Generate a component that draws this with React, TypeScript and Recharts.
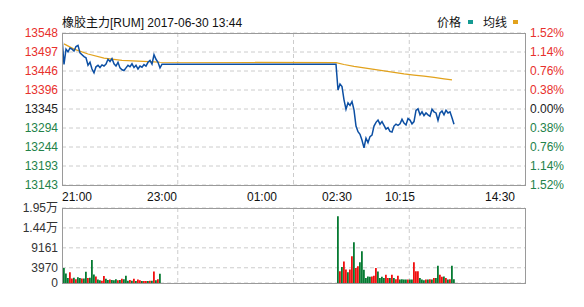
import React from 'react';
import { ComposedChart, Line, Bar, Cell, XAxis, YAxis, CartesianGrid } from 'recharts';

// price scale limits, mid point is the reference price
const PRICE_MIN = 13143;
const PRICE_MAX = 13548;

// x runs in 2px slots; night session from slot 0, day session from slot 137
const SLOT_COUNT = 231.5;
const DAY_PRICE_START = 137;
const DAY_VOL_START = 138;

const NIGHT_PRICE = [
  13535, 13464, 13505, 13498, 13508, 13505, 13500, 13512, 13515, 13495,
  13490, 13485, 13482, 13462, 13470, 13452, 13442, 13458, 13462, 13456,
  13463, 13460, 13465, 13478, 13472, 13480, 13466, 13460, 13470, 13455,
  13450, 13448, 13455, 13462, 13458, 13466, 13456, 13462, 13452, 13460,
  13457, 13464, 13460, 13470, 13475, 13465, 13490, 13478, 13470, 13455,
  13465,
];

const DAY_PRICE = [
  13465, 13396, 13412, 13405, 13370, 13345, 13362, 13355, 13365, 13343,
  13300, 13285, 13278, 13262, 13242, 13268, 13256, 13272, 13276, 13300,
  13310, 13316, 13305, 13312, 13302, 13292, 13296, 13286, 13284, 13300,
  13305, 13302, 13306, 13318, 13308, 13303, 13320, 13316, 13306, 13312,
  13342, 13346, 13330, 13338, 13328, 13335, 13330, 13326, 13345, 13338,
  13335, 13315, 13335, 13340, 13330, 13342, 13335, 13338, 13322, 13305,
];

const AVG_SLOTS = [1, 6, 13, 21, 30, 46, 49, 137, 141, 146, 151, 156, 161, 166, 171, 176, 181, 186, 191, 195];
const AVG_VALUES = [
  13519, 13505, 13492, 13481, 13475, 13471, 13470, 13469, 13464, 13459,
  13455, 13451, 13447, 13443, 13439, 13436, 13433, 13430, 13426, 13423,
];

const NIGHT_VOL = [
  4200, 3900, 2500, 1300, 2800, 1200, 1400, 1000, 1500, 1300,
  1200, 1200, 2900, 1300, 1400, 6000, 2200, 1700, 900, 700,
  600, 1800, 1100, 800, 900, 800, 700, 1000, 700, 800,
  1100, 1000, 1900, 600, 800, 600, 1100, 500, 900, 700,
  500, 500, 500, 500, 600, 600, 3000, 700, 1000, 2400,
];
const NIGHT_UP = [
  1, 0, 0, 0, 1, 1, 0, 1, 0, 0,
  1, 0, 0, 1, 0, 0, 0, 1, 0, 0,
  1, 1, 0, 0, 1, 0, 0, 0, 1, 0,
  1, 0, 0, 0, 1, 0, 1, 0, 1, 1,
  0, 1, 1, 0, 1, 0, 1, 0, 1, 0,
];

const DAY_VOL = [
  17380, 3040, 4170, 5600, 3500, 2800, 3500, 6950, 10600, 3900,
  4350, 5390, 8250, 3480, 1300, 1700, 1600, 1700, 1900, 3900,
  3000, 1300, 1600, 1300, 2170, 1300, 1300, 2170, 1300, 1000,
  1900, 900, 1000, 900, 900, 900, 900, 900, 5390, 3040,
  3040, 1300, 900, 700, 900, 900, 1000, 900, 1300, 1300,
  4520, 2170, 1600, 1700, 1300, 900, 1000, 4520, 1000,
];
const DAY_UP = [
  0, 1, 0, 1, 1, 0, 1, 1, 0, 1,
  1, 0, 0, 0, 0, 0, 0, 1, 1, 1,
  0, 0, 0, 0, 1, 1, 0, 1, 0, 1,
  1, 0, 0, 0, 0, 1, 0, 0, 1, 1,
  1, 0, 0, 0, 1, 0, 1, 0, 1, 0,
  0, 1, 1, 0, 1, 0, 1, 0, 0,
];

const VOL_TICKS = [0, 3970, 9161, 14352, 19543];

const TIME_TICKS = [0, 50, 100, 137.5, 169, 219];
const TIME_LABELS = ['21:00', '23:00', '01:00', '02:30', '10:15', '14:30'];

const RED = '#e8302c';
const GREEN = '#23824a';
const BAR_UP = '#f01010';
const BAR_DOWN = '#067a32';
const PRICE_COLOR = '#0c4fa3';
const AVG_COLOR = '#e2a21c';
const GRID = '#cccccc';
const FONT = "'Liberation Sans', Arial, 'Noto Sans CJK SC', sans-serif";

const PRICE_MID = (PRICE_MIN + PRICE_MAX) / 2;
const PRICE_TICKS = Array.from({ length: 9 }, (_, i) => PRICE_MIN + ((PRICE_MAX - PRICE_MIN) * i) / 8);

const priceData = [
  ...NIGHT_PRICE.map((price, i) => ({ slot: i, price })),
  ...DAY_PRICE.map((price, i) => ({ slot: DAY_PRICE_START + i, price })),
];
const avgData = AVG_SLOTS.map((slot, i) => ({ slot, avg: AVG_VALUES[i] }));
const volData = [
  ...NIGHT_VOL.map((vol, i) => ({ slot: i, vol, up: NIGHT_UP[i] === 1 })),
  ...DAY_VOL.map((vol, i) => ({ slot: DAY_VOL_START + i, vol, up: DAY_UP[i] === 1 })),
];

const tickColor = (v: number) => {
  if (Math.abs(v - PRICE_MID) < 0.01) return '#222';
  return v > PRICE_MID ? RED : GREEN;
};

const quarterLines = ({ offset }: any) =>
  [1, 2, 3].map((k) => offset.left + (offset.width * k) / 4);

const PriceTick = (props: any) => {
  const { x, y, payload } = props;
  return (
    <text x={x} y={y} dy={4} textAnchor="end" fill={tickColor(payload.value)} fontSize={12} fontFamily={FONT}>
      {Math.floor(payload.value)}
    </text>
  );
};

const PctTick = (props: any) => {
  const { x, y, payload } = props;
  const pct = Math.abs(((payload.value - PRICE_MID) / PRICE_MID) * 100).toFixed(2) + '%';
  return (
    <text x={x} y={y} dy={4} textAnchor="start" fill={tickColor(payload.value)} fontSize={12} fontFamily={FONT}>
      {pct}
    </text>
  );
};

const TimeTick = (props: any) => {
  const { x, y, payload, index } = props;
  return (
    <text x={x} y={y} dy={16} textAnchor={index === 0 ? 'start' : 'middle'} fill="#111" fontSize={12} fontFamily={FONT}>
      {TIME_LABELS[TIME_TICKS.indexOf(payload.value)]}
    </text>
  );
};

const VolTick = (props: any) => {
  const { x, y, payload } = props;
  const v = payload.value;
  const label = v >= 10000 ? (v / 10000).toFixed(2) + '万' : String(v);
  return (
    <text x={x} y={y} dy={4} textAnchor="end" fill="#333" fontSize={12} fontFamily={FONT}>
      {label}
    </text>
  );
};

const frame = (left: number, top: number, width: number, height: number): React.CSSProperties => ({
  position: 'absolute',
  left,
  top,
  width,
  height,
  border: '1px solid #9a9a9a',
  boxSizing: 'border-box',
  pointerEvents: 'none',
});

export default function App() {
  return (
    <div style={{ position: 'absolute', left: 0, top: 0, width: 584, height: 307, background: '#fff', fontFamily: FONT }}>
      <div style={{ position: 'absolute', left: 62, top: 13, fontSize: 12, color: '#111', whiteSpace: 'nowrap' }}>
        橡胶主力[RUM] 2017-06-30 13:44
      </div>
      <div style={{ position: 'absolute', left: 437, top: 13, fontSize: 12, color: '#111', display: 'flex', alignItems: 'center', whiteSpace: 'nowrap' }}>
        <span>价格</span>
        <span style={{ display: 'inline-block', width: 5, height: 4, background: '#149a92', margin: '0 10px 0 7px' }} />
        <span>均线</span>
        <span style={{ display: 'inline-block', width: 5, height: 4, background: AVG_COLOR, marginLeft: 6 }} />
      </div>

      <div style={{ position: 'absolute', left: 0, top: 0 }}>
        <ComposedChart width={584} height={215} margin={{ top: 33, right: 0, bottom: 0, left: 0 }}>
          <CartesianGrid
            yAxisId="left"
            stroke={GRID}
            strokeDasharray="4 3"
            verticalCoordinatesGenerator={quarterLines}
          />
          <XAxis
            type="number"
            dataKey="slot"
            domain={[0, SLOT_COUNT]}
            ticks={TIME_TICKS}
            interval={0}
            allowDataOverflow
            height={30}
            tickSize={0}
            tickMargin={0}
            axisLine={false}
            tick={<TimeTick />}
          />
          <YAxis
            yAxisId="left"
            orientation="left"
            width={62}
            domain={[PRICE_MIN, PRICE_MAX]}
            ticks={PRICE_TICKS}
            interval={0}
            allowDataOverflow
            axisLine={false}
            tickLine={false}
            tickSize={0}
            tickMargin={4}
            tick={<PriceTick />}
          />
          <YAxis
            yAxisId="right"
            orientation="right"
            width={59}
            domain={[PRICE_MIN, PRICE_MAX]}
            ticks={PRICE_TICKS}
            interval={0}
            allowDataOverflow
            axisLine={false}
            tickLine={false}
            tickSize={0}
            tickMargin={5}
            tick={<PctTick />}
          />
          <Line
            yAxisId="left"
            data={avgData}
            dataKey="avg"
            type="linear"
            stroke={AVG_COLOR}
            strokeWidth={1.2}
            dot={false}
            isAnimationActive={false}
          />
          <Line
            yAxisId="left"
            data={priceData}
            dataKey="price"
            type="linear"
            stroke={PRICE_COLOR}
            strokeWidth={1.5}
            dot={false}
            isAnimationActive={false}
          />
          <Line
            yAxisId="right"
            data={priceData}
            dataKey="price"
            stroke="none"
            dot={false}
            isAnimationActive={false}
          />
        </ComposedChart>
      </div>
      <div style={frame(62, 33, 464, 153)} />

      <div style={{ position: 'absolute', left: 0, top: 200 }}>
        <ComposedChart width={584} height={90} data={volData} margin={{ top: 8, right: 59, bottom: 7, left: 0 }}>
          <CartesianGrid stroke={GRID} strokeDasharray="4 3" verticalCoordinatesGenerator={quarterLines} />
          <XAxis type="number" dataKey="slot" domain={[0, SLOT_COUNT]} allowDataOverflow hide />
          <YAxis
            width={62}
            domain={[0, VOL_TICKS[VOL_TICKS.length - 1]]}
            ticks={VOL_TICKS}
            interval={0}
            allowDataOverflow
            axisLine={false}
            tickLine={false}
            tickSize={0}
            tickMargin={4}
            tick={<VolTick />}
          />
          <Bar dataKey="vol" barSize={2} isAnimationActive={false}>
            {volData.map((d, i) => (
              <Cell key={i} fill={d.up ? BAR_UP : BAR_DOWN} />
            ))}
          </Bar>
        </ComposedChart>
      </div>
      <div style={frame(62, 208, 464, 76)} />
    </div>
  );
}
